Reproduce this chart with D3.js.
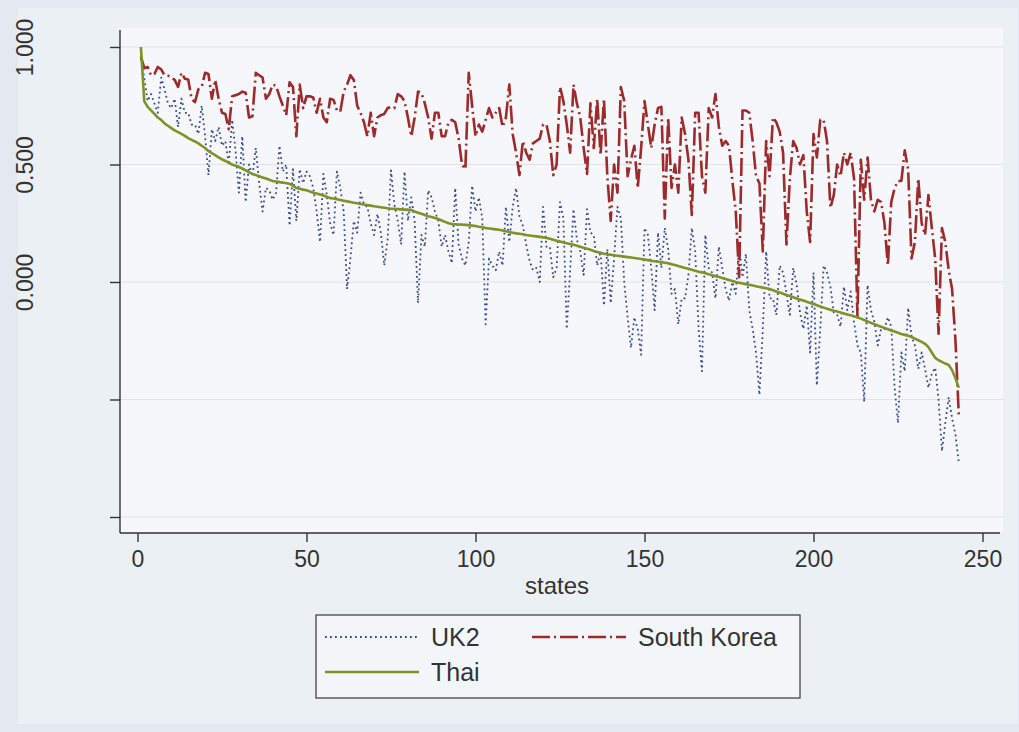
<!DOCTYPE html>
<html>
<head>
<meta charset="utf-8">
<script src="https://cdn.jsdelivr.net/npm/d3@7"></script>
<style>
  html, body { margin: 0; padding: 0; background: #e3e9ee; }
  svg { display: block; font-family: "Liberation Sans", Arial, sans-serif; }
</style>
</head>
<body>
<svg id="chart" width="1019" height="732"></svg>
<script>
// x ticks and y ticks of the original figure
const xTicks = [0, 50, 100, 150, 200, 250];
const yTicks = [-1, -0.5, 0, 0.5, 1];
const yLabels = {"0": "0.000", "0.5": "0.500", "1": "1.000"};

// series, one value per state (1..243)
const uk2 = [
  0.950,0.870,0.770,0.800,0.760,0.720,0.870,0.820,0.760,0.740,
  0.780,0.660,0.780,0.720,0.720,0.670,0.670,0.630,0.750,0.620,
  0.455,0.650,0.600,0.660,0.580,0.600,0.500,0.690,0.560,0.380,
  0.620,0.340,0.500,0.450,0.570,0.420,0.300,0.400,0.390,0.350,
  0.380,0.580,0.470,0.500,0.240,0.480,0.260,0.480,0.420,0.470,
  0.450,0.400,0.300,0.170,0.460,0.370,0.250,0.200,0.470,0.400,
  0.300,-0.030,0.100,0.260,0.210,0.380,0.330,0.320,0.250,0.200,
  0.290,0.210,0.070,0.180,0.475,0.330,0.260,0.160,0.470,0.260,
  0.360,0.260,-0.090,0.200,0.150,0.390,0.360,0.300,0.260,0.150,
  0.200,0.130,0.080,0.400,0.160,0.100,0.070,0.170,0.410,0.300,
  0.360,0.270,-0.180,0.100,0.070,0.050,0.130,0.070,0.320,0.170,
  0.320,0.400,0.280,0.240,0.160,0.090,0.050,0.060,0.000,0.320,
  0.150,0.150,0.020,0.060,0.340,0.270,-0.200,0.050,0.310,0.180,
  0.130,0.030,0.310,0.210,0.200,0.070,0.130,-0.100,0.140,-0.090,
  0.100,0.320,0.270,0.000,-0.150,-0.280,-0.150,-0.200,-0.310,0.230,
  0.200,0.060,-0.120,0.210,0.060,0.230,0.140,-0.050,-0.030,-0.180,
  -0.070,-0.070,0.030,0.230,0.130,-0.200,-0.380,0.200,0.060,0.040,
  -0.070,0.150,0.060,-0.030,-0.080,0.000,-0.050,0.150,0.020,0.120,
  -0.120,-0.200,-0.300,-0.480,-0.200,0.130,-0.070,-0.070,-0.140,0.070,
  0.040,-0.050,-0.140,0.060,-0.010,-0.130,-0.200,-0.100,-0.300,0.040,
  -0.440,-0.200,0.070,0.040,-0.020,-0.130,-0.140,-0.190,-0.020,-0.120,
  -0.040,-0.170,-0.270,-0.300,-0.510,-0.013,-0.120,-0.170,-0.270,-0.200,
  -0.200,-0.150,-0.190,-0.450,-0.600,-0.300,-0.380,-0.110,-0.230,-0.270,
  -0.370,-0.300,-0.370,-0.450,-0.390,-0.365,-0.500,-0.720,-0.600,-0.490,
  -0.580,-0.650,-0.770
];

const korea = [
  0.960,0.910,0.915,0.880,0.885,0.915,0.905,0.880,0.878,0.870,
  0.860,0.830,0.890,0.865,0.862,0.780,0.765,0.820,0.830,0.890,
  0.885,0.780,0.860,0.780,0.720,0.715,0.650,0.790,0.795,0.800,
  0.810,0.805,0.700,0.705,0.890,0.880,0.870,0.780,0.800,0.840,
  0.835,0.790,0.750,0.710,0.850,0.830,0.620,0.840,0.740,0.790,
  0.790,0.785,0.720,0.780,0.700,0.680,0.780,0.775,0.730,0.725,
  0.810,0.840,0.880,0.860,0.750,0.720,0.680,0.620,0.720,0.620,
  0.700,0.710,0.715,0.740,0.745,0.740,0.800,0.790,0.770,0.700,
  0.620,0.700,0.810,0.805,0.760,0.700,0.610,0.720,0.720,0.620,
  0.620,0.680,0.690,0.680,0.610,0.500,0.480,0.890,0.750,0.620,
  0.670,0.640,0.690,0.740,0.700,0.720,0.740,0.660,0.700,0.840,
  0.630,0.550,0.455,0.600,0.550,0.520,0.590,0.600,0.610,0.670,
  0.670,0.600,0.455,0.500,0.830,0.770,0.670,0.550,0.840,0.760,
  0.700,0.570,0.460,0.760,0.570,0.780,0.540,0.780,0.450,0.260,
  0.500,0.380,0.830,0.770,0.450,0.520,0.580,0.400,0.570,0.770,
  0.670,0.570,0.670,0.740,0.745,0.270,0.700,0.400,0.500,0.380,
  0.700,0.630,0.520,0.285,0.720,0.720,0.450,0.380,0.740,0.700,
  0.800,0.660,0.580,0.600,0.580,0.430,0.300,0.020,0.730,0.730,
  0.720,0.600,0.450,0.420,0.130,0.600,0.450,0.700,0.680,0.640,
  0.550,0.160,0.440,0.600,0.570,0.500,0.540,0.300,0.170,0.630,
  0.530,0.690,0.690,0.600,0.315,0.370,0.500,0.450,0.550,0.500,
  0.550,0.440,-0.150,0.520,0.350,0.530,0.350,0.300,0.350,0.340,
  0.250,0.070,0.340,0.400,0.430,0.430,0.560,0.480,0.100,0.170,
  0.440,0.250,0.200,0.370,0.230,0.100,-0.220,0.230,0.170,0.050,
  -0.030,-0.250,-0.570
];

const thai = [
  1.000,0.770,0.745,0.730,0.715,0.700,0.690,0.675,0.665,0.655,
  0.645,0.638,0.630,0.622,0.612,0.605,0.598,0.590,0.580,0.570,
  0.557,0.548,0.540,0.530,0.522,0.515,0.507,0.500,0.495,0.490,
  0.483,0.475,0.467,0.460,0.455,0.450,0.445,0.440,0.435,0.430,
  0.428,0.425,0.423,0.420,0.418,0.410,0.400,0.397,0.393,0.390,
  0.385,0.380,0.377,0.372,0.368,0.363,0.357,0.355,0.352,0.349,
  0.346,0.343,0.340,0.337,0.335,0.332,0.330,0.327,0.325,0.322,
  0.320,0.318,0.316,0.314,0.312,0.311,0.310,0.309,0.308,0.307,
  0.306,0.300,0.295,0.290,0.285,0.280,0.277,0.272,0.268,0.262,
  0.256,0.250,0.247,0.246,0.245,0.244,0.243,0.242,0.240,0.238,
  0.235,0.233,0.230,0.228,0.226,0.224,0.222,0.219,0.216,0.213,
  0.210,0.207,0.205,0.203,0.200,0.198,0.196,0.194,0.192,0.190,
  0.187,0.184,0.180,0.176,0.172,0.168,0.165,0.162,0.158,0.154,
  0.150,0.146,0.142,0.137,0.132,0.128,0.124,0.120,0.118,0.116,
  0.114,0.112,0.110,0.108,0.106,0.104,0.102,0.100,0.098,0.096,
  0.093,0.090,0.088,0.086,0.084,0.082,0.080,0.076,0.072,0.068,
  0.064,0.060,0.056,0.052,0.048,0.044,0.041,0.037,0.033,0.029,
  0.025,0.021,0.017,0.013,0.009,0.004,0.000,-0.003,-0.006,-0.009,
  -0.012,-0.015,-0.018,-0.021,-0.024,-0.027,-0.030,-0.035,-0.040,-0.045,
  -0.050,-0.055,-0.060,-0.065,-0.070,-0.075,-0.079,-0.084,-0.089,-0.094,
  -0.099,-0.104,-0.109,-0.114,-0.118,-0.122,-0.126,-0.130,-0.134,-0.138,
  -0.142,-0.146,-0.150,-0.156,-0.162,-0.168,-0.174,-0.180,-0.185,-0.190,
  -0.196,-0.201,-0.206,-0.211,-0.216,-0.221,-0.225,-0.229,-0.234,-0.241,
  -0.248,-0.255,-0.263,-0.277,-0.300,-0.323,-0.333,-0.340,-0.347,-0.353,
  -0.375,-0.410,-0.450
];

const series = [
  {name: "UK2", values: uk2, color: "#3b4a8c", width: 1.8, dash: "1.8,3.2"},
  {name: "South Korea", values: korea, color: "#9e2a2b", width: 2.6, dash: "18,4,2,4"},
  {name: "Thai", values: thai, color: "#7f9226", width: 2.6, dash: null}
];

const svg = d3.select("#chart");

// plot region
const plot = {left: 120, right: 1003, top: 28, bottom: 533};

const x = d3.scaleLinear().domain([0, 250]).range([137.5, 982.5]);
const y = d3.scaleLinear().domain([-1, 1]).range([517, 47]);

// graph region (lighter than the page)
svg.append("rect")
  .attr("x", 18).attr("y", 8)
  .attr("width", 1000).attr("height", 716)
  .attr("fill", "#ebf0f4");

svg.append("rect")
  .attr("x", plot.left).attr("y", plot.top)
  .attr("width", plot.right - plot.left).attr("height", plot.bottom - plot.top)
  .attr("fill", "#f5f7fa");

// gridlines
svg.append("g")
  .selectAll("line")
  .data(yTicks)
  .join("line")
  .attr("x1", plot.left).attr("x2", plot.right)
  .attr("y1", d => y(d)).attr("y2", d => y(d))
  .attr("stroke", "#dfe4ea")
  .attr("stroke-width", 1.2);

// y axis
const yAxis = svg.append("g")
  .attr("transform", `translate(${plot.left},0)`)
  .call(d3.axisLeft(y).tickValues(yTicks).tickSize(10).tickSizeOuter(0)
    .tickFormat(d => yLabels[String(d)] || ""));
yAxis.select(".domain").attr("d", `M0,${plot.top + 2}V${plot.bottom}`);
yAxis.selectAll(".tick line").attr("stroke", "#333").attr("stroke-width", 1.4);
yAxis.select(".domain").attr("stroke", "#333").attr("stroke-width", 1.4);
yAxis.selectAll(".tick text")
  .attr("x", null).attr("dy", null)
  .attr("transform", "translate(-87,0) rotate(-90)")
  .attr("text-anchor", "middle")
  .attr("font-size", 23)
  .attr("fill", "#333");

// x axis
const xAxis = svg.append("g")
  .attr("transform", `translate(0,${plot.bottom})`)
  .call(d3.axisBottom(x).tickValues(xTicks).tickSize(9).tickPadding(9).tickSizeOuter(0));
xAxis.select(".domain").attr("d", `M${plot.left},0H${plot.right - 3}`)
  .attr("stroke", "#333").attr("stroke-width", 1.4);
xAxis.selectAll(".tick line").attr("stroke", "#333").attr("stroke-width", 1.4);
xAxis.selectAll(".tick text").attr("font-size", 23).attr("fill", "#333");

svg.append("text")
  .attr("x", 557).attr("y", 594)
  .attr("text-anchor", "middle")
  .attr("font-size", 24)
  .attr("fill", "#333")
  .text("states");

// lines
const line = d3.line()
  .x((d, i) => x(i + 1))
  .y(d => y(d));

svg.append("g")
  .selectAll("path")
  .data(series)
  .join("path")
  .attr("d", d => line(d.values))
  .attr("fill", "none")
  .attr("stroke", d => d.color)
  .attr("stroke-width", d => d.width)
  .attr("stroke-dasharray", d => d.dash)
  .attr("stroke-linejoin", "round");

// legend
const legend = svg.append("g");
legend.append("rect")
  .attr("x", 316).attr("y", 615)
  .attr("width", 484).attr("height", 83)
  .attr("fill", "#f3f6f9")
  .attr("stroke", "#444")
  .attr("stroke-width", 1.3);

const legendPos = [
  {x: 325, y: 637},
  {x: 532, y: 637},
  {x: 325, y: 672}
];

const item = legend.selectAll("g.item")
  .data(series)
  .join("g")
  .attr("class", "item")
  .attr("transform", (d, i) => `translate(${legendPos[i].x},${legendPos[i].y})`);

item.append("line")
  .attr("x1", 0).attr("x2", 94)
  .attr("stroke", d => d.color)
  .attr("stroke-width", d => d.width)
  .attr("stroke-dasharray", d => d.dash);

item.append("text")
  .attr("x", 106).attr("y", 9)
  .attr("font-size", 25)
  .attr("fill", "#333")
  .text(d => d.name);
</script>
</body>
</html>
